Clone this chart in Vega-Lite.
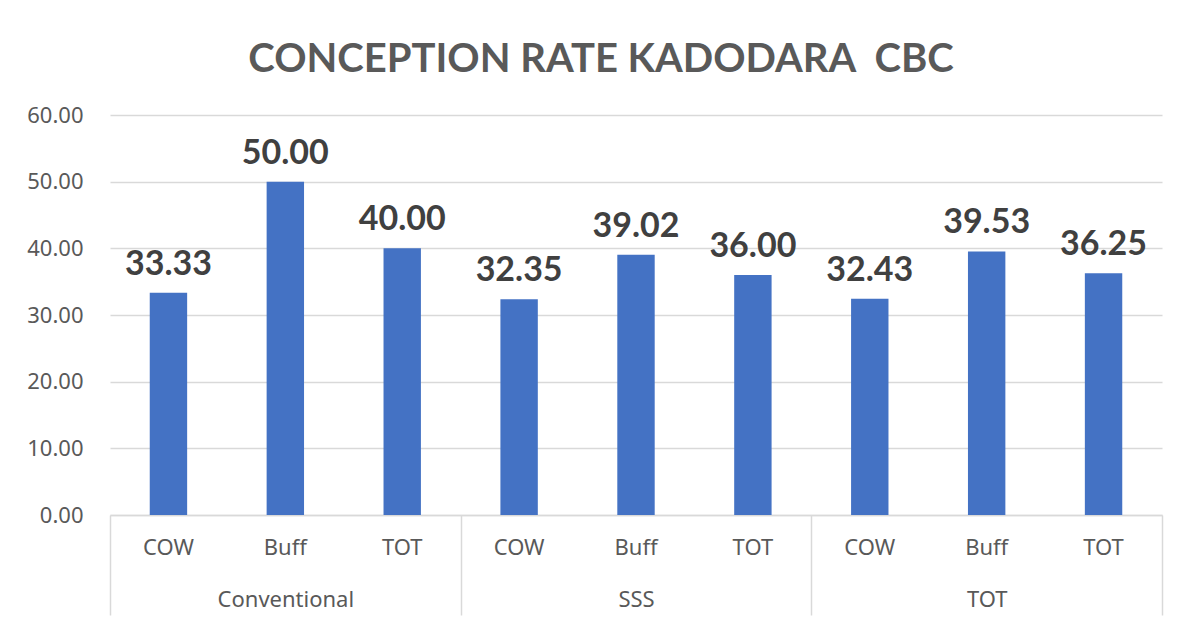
{
  "$schema": "https://vega.github.io/schema/vega-lite/v6.json",
  "autosize": {"type": "none"},
  "padding": {"left": 110, "top": 115, "right": 27, "bottom": 108},
  "width": 1052,
  "height": 400,
  "background": "white",
  "title": {
    "text": "CONCEPTION RATE KADODARA\u00a0 CBC",
    "font": "Lato",
    "fontSize": 40,
    "fontWeight": "bold",
    "color": "#595959",
    "anchor": "middle",
    "dx": -35,
    "offset": 24
  },
  "data": {
    "values": [
      {"group": "Conventional", "sub": "COW", "value": 33.33},
      {"group": "Conventional", "sub": "Buff", "value": 50.00},
      {"group": "Conventional", "sub": "TOT", "value": 40.00},
      {"group": "SSS", "sub": "COW", "value": 32.35},
      {"group": "SSS", "sub": "Buff", "value": 39.02},
      {"group": "SSS", "sub": "TOT", "value": 36.00},
      {"group": "TOT", "sub": "COW", "value": 32.43},
      {"group": "TOT", "sub": "Buff", "value": 39.53},
      {"group": "TOT", "sub": "TOT", "value": 36.25}
    ]
  },
  "encoding": {
    "x": {
      "field": "group",
      "type": "nominal",
      "sort": ["Conventional", "SSS", "TOT"],
      "scale": {"paddingInner": 0, "paddingOuter": 0},
      "axis": {
        "title": null,
        "labelAngle": 0,
        "labelFont": "Noto Sans",
        "labelFontSize": 22,
        "labelColor": "#595959",
        "labelPadding": -26,
        "tickBand": "extent",
        "ticks": true,
        "tickSize": 100,
        "tickColor": "#d9d9d9",
        "tickWidth": 1.5,
        "domainColor": "#d9d9d9",
        "domainWidth": 1.5
      }
    },
    "xOffset": {
      "field": "sub",
      "type": "nominal",
      "sort": ["COW", "Buff", "TOT"],
      "scale": {"paddingInner": 0.68, "paddingOuter": 0.34}
    }
  },
  "layer": [
    {
      "mark": {"type": "bar", "color": "#4472C4"},
      "encoding": {
        "y": {
          "field": "value",
          "type": "quantitative",
          "scale": {"domain": [0, 60], "nice": false},
          "axis": {
            "title": null,
            "values": [0, 10, 20, 30, 40, 50, 60],
            "format": ".2f",
            "labelFont": "Noto Sans",
            "labelFontSize": 22,
            "labelColor": "#595959",
            "labelPadding": 27,
            "domain": false,
            "ticks": false,
            "grid": true,
            "gridColor": "#d9d9d9",
            "gridWidth": 1.5
          }
        }
      }
    },
    {
      "mark": {"type": "text", "font": "Lato", "fontSize": 34, "fontWeight": "bold", "color": "#404040", "baseline": "alphabetic", "dy": -18},
      "encoding": {
        "y": {"field": "value", "type": "quantitative", "scale": {"domain": [0, 60], "nice": false}},
        "text": {"field": "value", "type": "quantitative", "format": ".2f"}
      }
    },
    {
      "mark": {"type": "text", "font": "Noto Sans", "fontSize": 22, "color": "#595959", "baseline": "middle"},
      "encoding": {
        "y": {"datum": -5, "type": "quantitative"},
        "text": {"field": "sub", "type": "nominal"}
      }
    }
  ],
  "config": {
    "view": {"stroke": null}
  }
}
